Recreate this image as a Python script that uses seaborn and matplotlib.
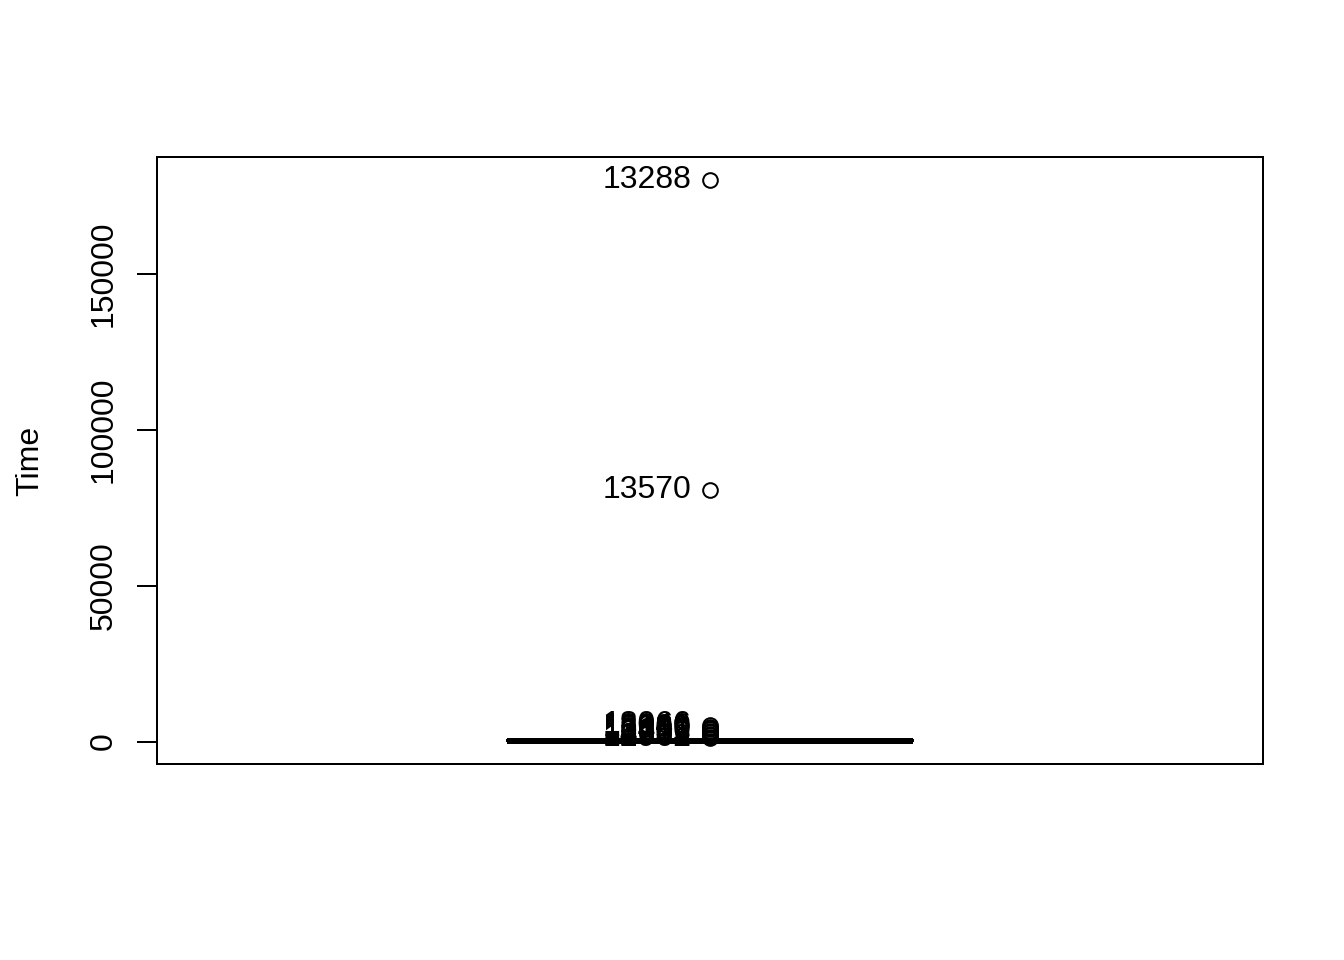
import numpy as np
import pandas as pd
import matplotlib
matplotlib.use("Agg")
import matplotlib.pyplot as plt
import seaborn as sns

# bulk of the Time values (tiny compared to the two extreme outliers)
time_body = [12, 25, 38, 44, 51, 60, 66, 73, 80, 88, 95, 101, 108, 115, 122,
             130, 137, 144, 150, 158, 165, 171, 179, 186, 192, 200, 207, 214,
             220, 228, 235, 241, 249, 256, 262, 270, 277, 284, 290, 298, 305,
             311, 319, 326, 333, 340, 348, 355, 362, 370, 377, 384, 391, 399,
             406, 413, 421, 428, 436, 445]
# outliers with their row ids
outlier_ids = ["13288", "13570", "18066", "13040", "13121", "13309", "13450",
               "13602", "13755", "14012", "12501", "12962"]
outlier_vals = [180100, 80600, 5300, 4800, 4300, 3900, 3400, 3000, 2500,
                2000, 1500, 1000]

df = pd.DataFrame({"Time": time_body + outlier_vals})

sns.set_style("white")
plt.rcParams["font.family"] = ["Liberation Sans", "DejaVu Sans"]
plt.rcParams["font.size"] = 12
plt.rcParams["text.color"] = "black"
plt.rcParams["axes.labelcolor"] = "black"
plt.rcParams["ytick.color"] = "black"
plt.rcParams["ytick.labelcolor"] = "black"

fig = plt.figure(figsize=(7, 5), dpi=192)
ax = fig.add_axes([157 / 1344, 1 - 764 / 960, 1106 / 1344, 607 / 960])

sns.boxplot(data=df, y="Time", ax=ax, width=0.8, color="white",
            linecolor="black", linewidth=0.75, whis=1.5,
            medianprops=dict(linewidth=2.25, color="black"),
            whiskerprops=dict(linestyle="--"),
            flierprops=dict(marker="o", markerfacecolor="none",
                            markeredgecolor="black", markersize=5.5,
                            markeredgewidth=0.75))

for lab, v in zip(outlier_ids, outlier_vals):
    ax.annotate(lab, xy=(0, v), xytext=(-7, 0), textcoords="offset points",
                ha="right", va="center", fontsize=12, color="black")

ax.set_xlim(-1.09, 1.09)
ax.set_ylim(-7206, 187356)
ax.set_xticks([])
ax.set_yticks([0, 50000, 100000, 150000])
ax.set_yticklabels(["0", "50000", "100000", "150000"], rotation=90, va="center")
ax.tick_params(axis="y", direction="out", length=7.5, width=0.75, pad=7,
               left=True, color="black", labelcolor="black", labelsize=12)
ax.set_ylabel("Time", fontsize=12, labelpad=16, color="black")
ax.set_xlabel("")
for s in ax.spines.values():
    s.set_visible(True)
    s.set_color("black")
    s.set_linewidth(0.75)

fig.savefig("out.png", dpi=192)
